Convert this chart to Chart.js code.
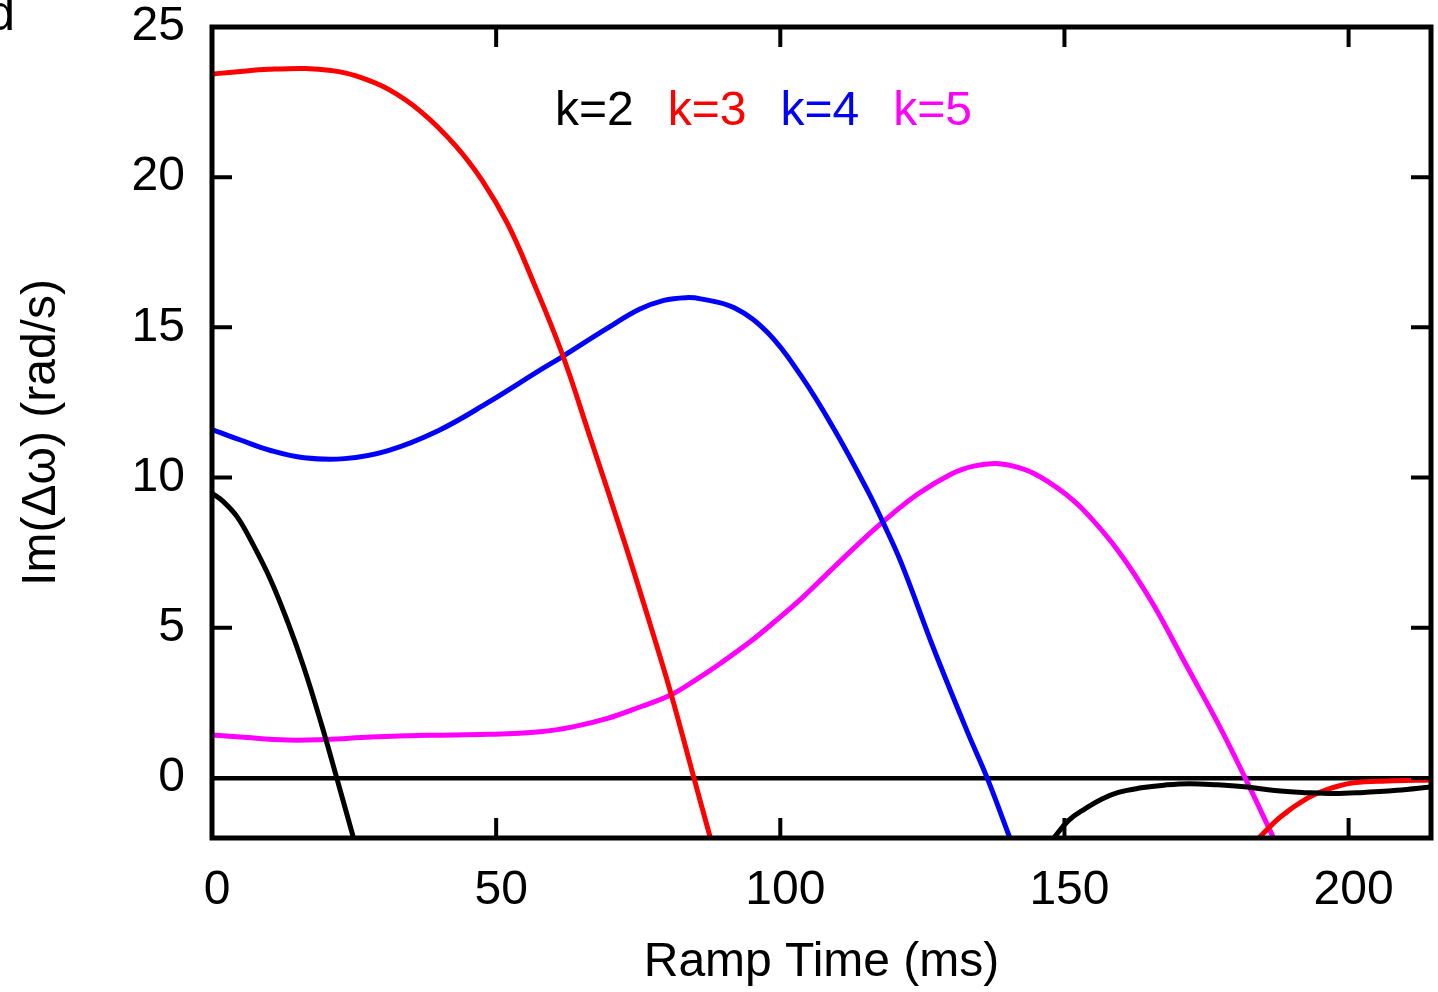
<!DOCTYPE html>
<html>
<head>
<meta charset="utf-8">
<style>
  html, body { margin: 0; padding: 0; background: #fff; overflow: hidden; }
  #wrap { position: relative; width: 1438px; height: 992px; }
</style>
<script src="https://cdn.jsdelivr.net/npm/chart.js@4.4.0/dist/chart.umd.min.js"></script>
</head>
<body>
<div id="wrap"><canvas id="c" width="1438" height="992"></canvas></div>
<script>
// Axis ticks
const xTicks = [0, 50, 100, 150, 200];
const yTicks = [0, 5, 10, 15, 20, 25];

// Series labels and colours
const seriesLabels = ['k=2', 'k=3', 'k=4', 'k=5'];
const seriesColors = ['#000000', '#ff0000', '#0000ff', '#ff00ff'];

// k=2 : two visible branches
const k2TimeA  = [0, 2, 4.4, 7, 10.3, 13.3, 16.2, 19.3, 21.8, 24.9];
const k2ValueA = [9.48, 9.2, 8.7, 7.85, 6.6, 5.2, 3.66, 1.76, 0.1, -2.0];
const k2TimeB  = [148.1, 150.7, 153.6, 156.6, 159.5, 163.5, 167.5, 172, 177, 182.1, 187, 192.7, 197.5, 202, 208.5, 214.5];
const k2ValueB = [-2.0, -1.42, -1.03, -0.7, -0.48, -0.33, -0.24, -0.19, -0.23, -0.3, -0.42, -0.49, -0.52, -0.49, -0.41, -0.3];

// k=3 : two visible branches
const k3TimeA  = [0, 5, 10, 16.4, 21, 25.2, 31, 36.9, 42.8, 47.5, 52, 56.3, 61.6, 66.6, 72.5, 77.2, 80.7, 84.8, 87.7];
const k3ValueA = [23.43, 23.52, 23.59, 23.62, 23.55, 23.38, 22.93, 22.16, 21.06, 19.9, 18.45, 16.62, 14.13, 11.3, 7.9, 5.05, 2.85, 0, -2.0];
const k3TimeB  = [184.2, 188, 192.7, 196.8, 200.9, 206.8, 214.5];
const k3ValueB = [-2.0, -1.3, -0.68, -0.35, -0.16, -0.1, -0.07];

// k=4
const k4Time  = [0, 5, 10.3, 16.2, 23.3, 31, 39.8, 48.6, 57.5, 61.6, 69.3, 75.2, 79.5, 83.4, 86, 91.9, 97.8, 103.6, 109.5, 115.4, 118.1, 121.3, 127.1, 133.0, 136.4, 140.4];
const k4Value = [11.6, 11.25, 10.9, 10.66, 10.63, 10.9, 11.56, 12.5, 13.55, 14.02, 14.94, 15.6, 15.9, 15.99, 15.95, 15.65, 14.82, 13.4, 11.6, 9.55, 8.5, 7.15, 4.25, 1.5, 0, -2.0];

// k=5
const k5Time  = [0, 5, 13.3, 20, 28, 38, 48.6, 57.8, 63.5, 69.6, 75.4, 80.7, 85.4, 89.5, 94.8, 99, 103.6, 108, 112.4, 118.1, 124.2, 130.1, 134, 137.8, 141, 144.8, 149.5, 153.7, 159.5, 165.4, 171.3, 177.2, 181.8, 186.8];
const k5Value = [1.43, 1.36, 1.26, 1.28, 1.36, 1.42, 1.45, 1.54, 1.7, 1.98, 2.37, 2.76, 3.3, 3.82, 4.55, 5.2, 5.95, 6.75, 7.55, 8.53, 9.45, 10.12, 10.38, 10.47, 10.38, 10.12, 9.55, 8.85, 7.55, 5.85, 3.8, 1.75, 0, -2.0];

const FONT = '"Liberation Sans", Arial, Helvetica, sans-serif';

function toPoints(t, v) { return t.map((x, i) => ({ x: x, y: v[i] })); }
function withGap(tA, vA, tB, vB) {
  const gapX = (tA[tA.length - 1] + tB[0]) / 2;
  return toPoints(tA, vA).concat([{ x: gapX, y: null }], toPoints(tB, vB));
}

const seriesData = [
  withGap(k2TimeA, k2ValueA, k2TimeB, k2ValueB),
  withGap(k3TimeA, k3ValueA, k3TimeB, k3ValueB),
  toPoints(k4Time, k4Value),
  toPoints(k5Time, k5Value)
];

const datasets = seriesLabels.map((lab, i) => ({
  label: lab,
  data: seriesData[i],
  borderColor: seriesColors[i],
  backgroundColor: seriesColors[i],
  borderWidth: 5,
  pointRadius: 0,
  pointHoverRadius: 0,
  fill: false,
  spanGaps: false,
  tension: 0.4
}));

// Frame, inward mirrored ticks, key and panel letter
const framePlugin = {
  id: 'frameTicksKey',
  afterDatasetsDraw(chart) {
    const { ctx, chartArea: a, scales } = chart;
    const xs = scales.x, ys = scales.y;
    const tl = 20;
    ctx.save();
    ctx.strokeStyle = '#000';
    ctx.lineCap = 'butt';
    ctx.lineWidth = 4;
    ctx.beginPath();
    xTicks.forEach(v => {
      const px = xs.getPixelForValue(v);
      ctx.moveTo(px, a.bottom); ctx.lineTo(px, a.bottom - tl);
      ctx.moveTo(px, a.top); ctx.lineTo(px, a.top + tl);
    });
    yTicks.forEach(v => {
      const py = ys.getPixelForValue(v);
      ctx.moveTo(a.left, py); ctx.lineTo(a.left + tl, py);
      ctx.moveTo(a.right, py); ctx.lineTo(a.right - tl, py);
    });
    ctx.stroke();
    ctx.lineWidth = 5;
    ctx.strokeRect(a.left, a.top, a.right - a.left, a.bottom - a.top);

    // key: coloured titles only
    ctx.font = '48px ' + FONT;
    ctx.textBaseline = 'alphabetic';
    ctx.textAlign = 'left';
    let kx = 555;
    chart.data.datasets.forEach(ds => {
      ctx.fillStyle = ds.borderColor;
      ctx.fillText(ds.label, kx, 125);
      kx += ctx.measureText(ds.label).width + 34;
    });

    // panel letter
    ctx.fillStyle = '#000';
    ctx.font = '50px ' + FONT;
    ctx.textAlign = 'right';
    ctx.fillText('d', 15, 30);
    ctx.restore();
  }
};

// keep tick-label overhang from shrinking the plot area
function noOverhang(s) {
  s.paddingTop = 0; s.paddingBottom = 0;
  s.paddingLeft = 0; s.paddingRight = 0;
}

new Chart(document.getElementById('c'), {
  type: 'line',
  data: { datasets: datasets },
  options: {
    responsive: false,
    animation: false,
    devicePixelRatio: 1,
    layout: { padding: { top: 27, right: 7, left: 0, bottom: 0 } },
    plugins: {
      legend: { display: false },
      tooltip: { enabled: false }
    },
    scales: {
      x: {
        type: 'linear',
        min: 0,
        max: 214.5,
        afterBuildTicks: s => { s.ticks = xTicks.map(v => ({ value: v })); },
        afterFit: s => { s.height = 154; noOverhang(s); },
        grid: { display: false, drawTicks: false },
        border: { display: false },
        ticks: {
          color: '#000',
          font: { family: FONT, size: 48, lineHeight: 1 },
          padding: 29,
          labelOffset: 5,
          maxRotation: 0,
          autoSkip: false
        },
        title: {
          display: true,
          text: 'Ramp Time (ms)',
          color: '#000',
          font: { family: FONT, size: 48, lineHeight: 1.2 },
          padding: { top: 0, bottom: 0 }
        }
      },
      y: {
        type: 'linear',
        min: -2,
        max: 25,
        afterBuildTicks: s => { s.ticks = yTicks.map(v => ({ value: v })); },
        afterFit: s => { s.width = 212; noOverhang(s); },
        grid: {
          display: true,
          drawTicks: false,
          lineWidth: 4.5,
          color: c => (c.tick && c.tick.value === 0) ? '#000' : 'rgba(0,0,0,0)'
        },
        border: { display: false },
        ticks: {
          color: '#000',
          font: { family: FONT, size: 48, lineHeight: 1 },
          padding: 27,
          autoSkip: false
        },
        title: {
          display: true,
          text: 'Im(Δω) (rad/s)',
          color: '#000',
          font: { family: FONT, size: 48, lineHeight: 1.2 },
          padding: { top: 13, bottom: 0 }
        }
      }
    }
  },
  plugins: [framePlugin]
});
</script>
</body>
</html>
